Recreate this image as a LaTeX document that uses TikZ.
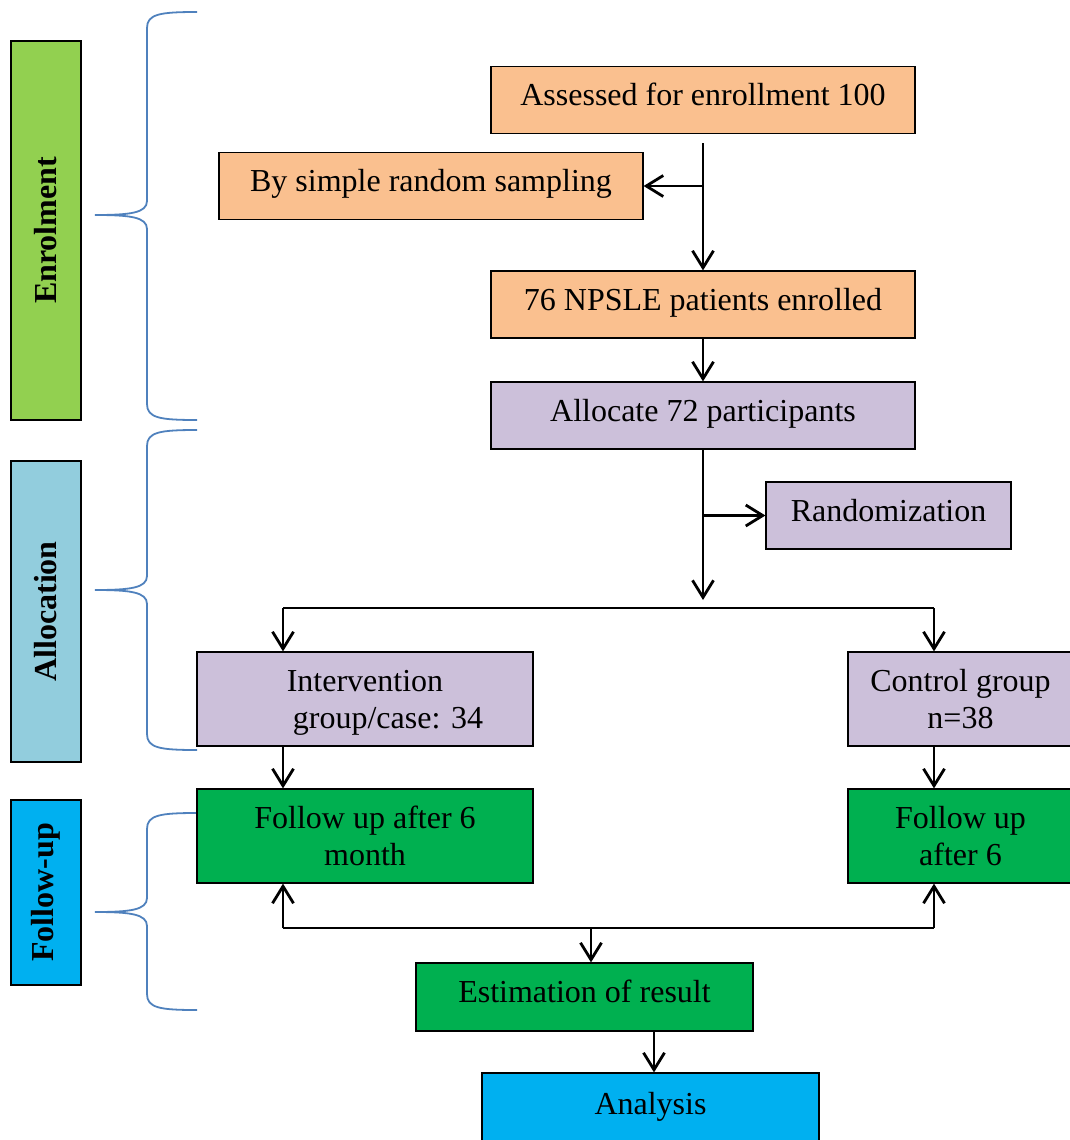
\documentclass[tikz,border=0pt]{standalone}
\usepackage{fontspec}
\setmainfont{Liberation Serif}
\usetikzlibrary{arrows.meta}

\definecolor{peach}{RGB}{250,192,143}
\definecolor{lilac}{RGB}{204,192,218}
\definecolor{leaf}{RGB}{0,176,80}
\definecolor{sky}{RGB}{0,176,240}
\definecolor{lime}{RGB}{146,208,80}
\definecolor{pale}{RGB}{146,205,221}
\definecolor{bracecol}{RGB}{79,129,189}

\begin{document}
\begin{tikzpicture}[x=0.5pt, y=-0.5pt, >={Straight Barb[length=8.5pt,width=10.5pt]},
  box/.style={draw, line width=0.6pt, inner sep=0pt, align=center, font=\fontsize{16}{18.5}\selectfont},
  single/.style={box, text depth=5.5pt},
  wide/.style={single, minimum width=212pt, minimum height=33.5pt},
  group/.style={box, text depth=0pt, minimum height=47pt},
  side/.style={draw, line width=0.7pt, minimum width=35pt, inner sep=0pt, font=\fontsize{16}{18}\selectfont\bfseries},
  link/.style={line width=1.4pt},
  curly/.style={draw=bracecol, line width=0.9pt}]

\clip (0,0) rectangle (1070,1140);

% stage bars
\node[side, fill=lime, minimum height=189.5pt] (enrolbar) at (46,230.5) {\rotatebox{90}{Enrolment}};
\node[side, fill=pale, minimum height=150.5pt] (allocbar) at (46,611.5) {\rotatebox{90}{Allocation}};
\node[side, fill=sky, minimum height=92.5pt] (followbar) at (46,892.5) {\rotatebox{90}{Follow-up}};

% braces
\foreach \top/\mid/\bot in {12/215/420, 430/590/750, 813/912/1010}
    \draw[curly] (197,\top) .. controls (160,\top) and (147,\top+2) .. (147,\top+16)
        -- (147,\mid-14) .. controls (147,\mid-2) and (130,\mid) .. (95,\mid)
        .. controls (130,\mid) and (147,\mid+2) .. (147,\mid+14)
        -- (147,\bot-16) .. controls (147,\bot-2) and (160,\bot) .. (197,\bot);

% boxes
\node[wide, fill=peach] (assess) at (703,100) {Assessed for enrollment 100};
\node[wide, fill=peach] (sampling) at (431,186) {By simple random sampling};
\node[wide, fill=peach] (enrolled) at (703,304.5) {76 NPSLE patients enrolled};
\node[wide, fill=lilac] (allocate) at (703,415.5) {Allocate 72 participants};
\node[single, fill=lilac, minimum width=122.5pt, minimum height=33.5pt] (random) at (888.5,515.5) {Randomization};
\node[group, fill=lilac, minimum width=168pt] (interv) at (365,699) {Intervention\\\hspace*{23pt}group/case: 34};
\node[group, fill=lilac, minimum width=112.5pt] (control) at (960.5,699) {Control group\\n=38};
\node[group, fill=leaf, minimum width=168pt] (follow1) at (365,836) {Follow up after 6\\month};
\node[group, fill=leaf, minimum width=112.5pt] (follow2) at (960.5,836) {Follow up\\after 6};
\node[single, fill=leaf, minimum width=168.5pt, minimum height=34pt] (estim) at (584.5,997) {Estimation of result};
\node[single, fill=sky, minimum width=168.5pt, minimum height=36pt] (analysis) at (650.5,1109) {Analysis};

% connectors
\coordinate (fork) at (703,600);
\coordinate (ltop) at (283,608);
\coordinate (rtop) at (934,608);
\coordinate (lbot) at (283,928);
\coordinate (rbot) at (934,928);
\coordinate (mbot) at (591,928);

\draw[link, ->, shorten <=4.5pt] (assess.south) -- (enrolled.north);
\draw[link, ->] (assess.south |- sampling.east) -- (sampling.east);
\draw[link, ->] (enrolled) -- (allocate);
\draw[link, ->] (allocate.south) -- (fork);
\draw[link, ->] (allocate.south |- random.west) -- (random.west);
\draw[link] (ltop) -- (rtop);
\draw[link, ->] (ltop) -- (ltop |- interv.north);
\draw[link, ->] (rtop) -- (rtop |- control.north);
\draw[link, ->] (ltop |- interv.south) -- (ltop |- follow1.north);
\draw[link, ->] (rtop |- control.south) -- (rtop |- follow2.north);
\draw[link] (lbot) -- (rbot);
\draw[link, ->] (lbot) -- (lbot |- follow1.south);
\draw[link, ->] (rbot) -- (rbot |- follow2.south);
\draw[link, ->] (mbot) -- (mbot |- estim.north);
\draw[link, ->] ([xshift=1.75pt]estim.south -| analysis.north) -- ([xshift=1.75pt]analysis.north);
\end{tikzpicture}
\end{document}
